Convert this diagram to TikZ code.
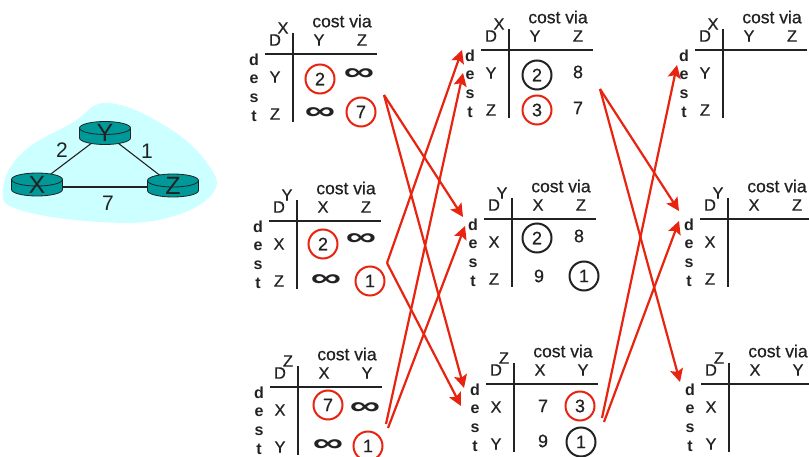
\documentclass[tikz,border=0pt]{standalone}
\usepackage{fontspec}
\setmainfont{Liberation Sans}
\newfontfamily\medfont[FakeBold=0.6]{Liberation Sans}
\usetikzlibrary{arrows.meta}
\definecolor{cloudc}{HTML}{CCFFFF}
\definecolor{routerc}{HTML}{009999}
\definecolor{redc}{HTML}{E8230F}
\definecolor{ink}{HTML}{222222}
\newcommand{\fsz}[1]{\fontsize{#1}{#1}\selectfont}
\newcommand{\infsym}{\scalebox{1.85}[1.1]{∞}}
\tikzset{
  tlabel/.style={inner sep=0pt,text=ink,font=\medfont\fsz{16.5}},
  costlabel/.style={inner sep=0pt,text=ink,font=\medfont\fsz{17.5}},
  destlabel/.style={inner sep=0pt,text=ink,font=\fsz{16}\bfseries},
  celltext/.style={inner sep=0pt,text=ink,font=\medfont\fsz{18}},
  redcirc/.style={circle,draw=redc,line width=2pt,minimum size=29pt,inner sep=0pt,text=ink,font=\medfont\fsz{18}},
  blkcirc/.style={circle,draw=ink,line width=2pt,minimum size=29pt,inner sep=0pt,text=ink,font=\medfont\fsz{18}},
  infty/.style={inner sep=0pt,text=ink,font=\fsz{23}\bfseries},
  rule/.style={draw=ink,line width=2pt},
  netlabel/.style={inner sep=0pt,text=ink,font=\fsz{21}},
  routerlabel/.style={inner sep=0pt,text=ink,font=\fsz{25}},
  routerbox/.style={inner sep=0pt,minimum width=51pt,minimum height=26pt},
  link/.style={draw=ink,line width=1.1pt},
  upd/.style={draw=redc,line width=2.2pt,-{Stealth[length=13pt,width=13pt,inset=2.5pt]}}
}
% name, origin x, y, corner letter, column 1, column 2, row 1, row 2
\newcommand{\dvtable}[8]{%
  \begin{scope}[shift={(#2,#3)}]
    \node[tlabel] (#1n) at (-10,-26) {#4};
    \node[tlabel] (#1D) at (-18,-14) {D};
    \node[costlabel] (#1c) at (49,-33) {cost via};
    \node[tlabel] (#1a) at (26,-14) {#5};
    \node[tlabel] (#1b) at (69,-14) {#6};
    \node[destlabel] (#1d1) at (-39,6) {d};
    \node[destlabel] (#1d2) at (-39,25) {e};
    \node[destlabel] (#1d3) at (-39,44) {s};
    \node[destlabel] (#1d4) at (-39,62) {t};
    \node[tlabel] (#1r) at (-18,23) {#7};
    \node[tlabel] (#1s) at (-18,60) {#8};
    \path[rule] (0,-21) -- (0,68);
    \path[rule] (-28,0) -- (84,0);
  \end{scope}}
\newcommand{\router}[4]{% name, x, y, label
  \fill[routerc] (#2-25.5,#3-5) -- (#2-25.5,#3+5) arc[start angle=180,end angle=0,x radius=25.5,y radius=6.5]
     -- (#2+25.5,#3-5) -- cycle;
  \draw[ink,line width=0.8pt] (#2-25.5,#3-5) -- (#2-25.5,#3+5) arc[start angle=180,end angle=0,x radius=25.5,y radius=6.5] -- (#2+25.5,#3-5);
  \draw[ink,line width=0.8pt,fill=routerc] (#2,#3-5) ellipse[x radius=25.5,y radius=6.5];
  \node[routerbox] (#1) at (#2,#3) {};
  \node[routerlabel] (#1t) at (#2,#3) {#4};}
\begin{document}
\begin{tikzpicture}[x=1pt,y=-1pt]
\useasboundingbox (0,0) rectangle (809,457);
% cloud
\fill[cloudc] plot[smooth cycle,tension=0.7] coordinates {(108,103) (72,123) (22,153) (3,190) (20,210) (100,222) (167,218) (213,193) (207,163) (167,127)};
% routers
\node[routerbox] (X0) at (37,184.5) {};
\node[routerbox] (Y0) at (105,133) {};
\node[routerbox] (Z0) at (173,185.5) {};
\path[link] (X0.center) -- (Y0.center);
\path[link] (Y0.center) -- (Z0.center);
\path[link] ([yshift=-2.5pt]X0.center) -- ([yshift=-1.5pt]Z0.center);
\router{X}{37}{184.5}{X}
\router{Y}{105}{133}{Y}
\router{Z}{173}{185.5}{Z}
\node[netlabel] (l2) at (62,150) {2};
\node[netlabel] (l1) at (147,151) {1};
\node[netlabel] (l7) at (108,203) {7};
% tables
\dvtable{A}{293}{54}{X}{Y}{Z}{Y}{Z}
\dvtable{B}{297}{221}{Y}{X}{Z}{X}{Z}
\dvtable{C}{298}{387}{Z}{X}{Y}{X}{Y}
\dvtable{D}{509}{50}{X}{Y}{Z}{Y}{Z}
\dvtable{E}{512}{219}{Y}{X}{Z}{X}{Z}
\dvtable{F}{514}{384}{Z}{X}{Y}{X}{Y}
\dvtable{G}{723}{50}{X}{Y}{Z}{Y}{Z}
\dvtable{H}{728}{219}{Y}{X}{Z}{X}{Z}
\dvtable{I}{729}{384}{Z}{X}{Y}{X}{Y}
% cells
\node[redcirc] (a1) at (320,79) {2};
\node[infty] (a2) at (359,75) {\infsym};
\node[infty] (a3) at (320,114) {\infsym};
\node[redcirc] (a4) at (361,112) {7};
\node[redcirc] (b1) at (323,244) {2};
\node[infty] (b2) at (361,240) {\infsym};
\node[infty] (b3) at (326,281) {\infsym};
\node[redcirc] (b4) at (370,281) {1};
\node[redcirc] (c1) at (328,405) {7};
\node[infty] (c2) at (365,409) {\infsym};
\node[infty] (c3) at (328,446) {\infsym};
\node[redcirc] (c4) at (368,446) {1};
\node[blkcirc] (d1) at (537,75) {2};
\node[celltext] (d2) at (578,72) {8};
\node[redcirc] (d3) at (537,110) {3};
\node[celltext] (d4) at (578,108) {7};
\node[blkcirc] (e1) at (537,238) {2};
\node[celltext] (e2) at (579,236) {8};
\node[celltext] (e3) at (539,276) {9};
\node[blkcirc] (e4) at (584,276) {1};
\node[celltext] (f1) at (543,406) {7};
\node[redcirc] (f2) at (580,406) {3};
\node[celltext] (f3) at (543,441) {9};
\node[blkcirc] (f4) at (581,442) {1};
% arrow ends
\coordinate (s1) at (384,95);
\coordinate (s2) at (387,263);
\coordinate (s3) at (386,424);
\coordinate (s4) at (388,428);
\coordinate (s5) at (600,89);
\coordinate (s6) at (602,418);
\coordinate (s7) at (604,422);
\coordinate (t1) at (463,217);
\coordinate (t2) at (464,388);
\coordinate (t3) at (462,50);
\coordinate (t4) at (461,406);
\coordinate (t5) at (463,73);
\coordinate (t6) at (465,226);
\coordinate (t7) at (679,211);
\coordinate (t8) at (680,382);
\coordinate (t9) at (677,65);
\coordinate (t10) at (679,221);
\path[upd] (s1) -- (t1);
\path[upd] (s1) -- (t2);
\path[upd] (s2) -- (t3);
\path[upd] (s2) -- (t4);
\path[upd] (s3) -- (t5);
\path[upd] (s4) -- (t6);
\path[upd] (s5) -- (t7);
\path[upd] (s5) -- (t8);
\path[upd] (s6) -- (t9);
\path[upd] (s7) -- (t10);
\end{tikzpicture}
\end{document}
